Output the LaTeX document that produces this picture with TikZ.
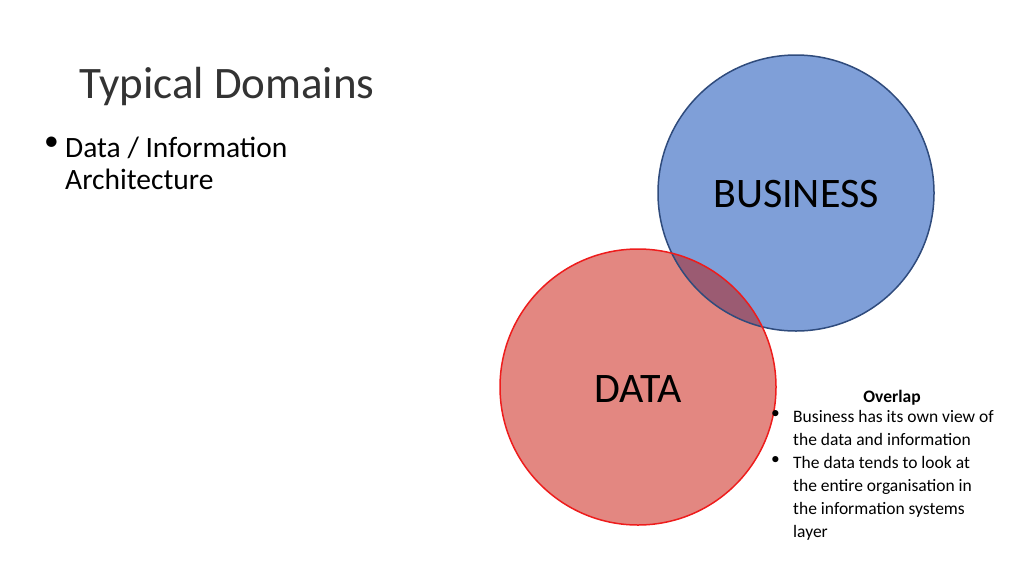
\documentclass[tikz,border=0pt]{standalone}
\usepackage{fontspec}
\setmainfont{Carlito}
\definecolor{bizfill}{HTML}{7F9FD8}
\definecolor{bizline}{HTML}{2F4B7C}
\definecolor{datafill}{HTML}{E38781}
\definecolor{dataline}{HTML}{EE1C1C}
\definecolor{overlapfill}{HTML}{9B5B72}
\begin{document}
\begin{tikzpicture}[x=1pt,y=-1pt]
\useasboundingbox (0,0) rectangle (1024,576);
\tikzset{note/.style={anchor=north west,font=\fontsize{17.5}{23}\selectfont,inner sep=0}}
\node[anchor=west,font=\fontsize{45}{50}\selectfont,text=black!80,inner sep=0] (title) at (79,86) {Typical Domains};
\node[anchor=north west,font=\fontsize{29.5}{32}\selectfont,inner sep=0] (dot) at (44,137) {\textbullet};
\node[anchor=north west,font=\fontsize{29.5}{32}\selectfont,align=left,inner sep=0] (bullet) at (65,137) {Data / Information\\Architecture};
% circles
\fill[bizfill] (796,193) circle (138);
\fill[datafill] (638,387) circle (138);
\begin{scope}
\clip (796,193) circle (138);
\fill[overlapfill] (638,387) circle (138);
\end{scope}
\draw[bizline,line width=1.5pt] (796,193) circle (138);
\draw[dataline,line width=1.5pt] (638,387) circle (138);
\node[font=\fontsize{42}{46}\selectfont] (business) at (796,194) {BUSINESS};
\node[font=\fontsize{42}{46}\selectfont] (data) at (638,389) {DATA};
% overlap note
\node[font=\bfseries\fontsize{17.5}{23}\selectfont] (overlap) at (892,398) {Overlap};
\node[note] (n1) at (771,410) {\textbullet};
\node[note,align=left] (t1) at (793,410) {Business has its own view of\\the data and information};
\node[note] (n2) at (771,456) {\textbullet};
\node[note,align=left] (t2) at (793,456) {The data tends to look at\\the entire organisation in\\the information systems\\layer};
\end{tikzpicture}
\end{document}
